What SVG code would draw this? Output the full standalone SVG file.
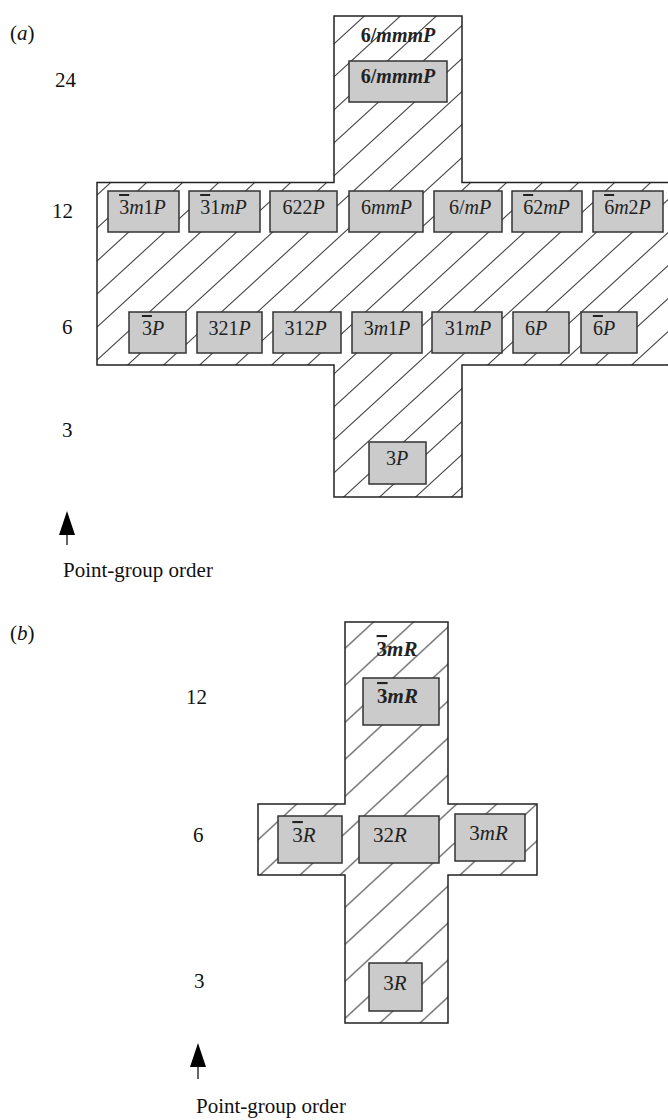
<svg xmlns="http://www.w3.org/2000/svg" width="668" height="1120" viewBox="0 0 668 1120">
<style>
  text { font-family: "Liberation Serif", "Times New Roman", serif; fill: #111; }
  .lbl { font-size: 21px; }
  .bt { font-size: 20px; fill: #222; text-anchor: middle; }
  .btb { font-size: 21px; fill: #222; text-anchor: middle; }
  .bold { font-weight: bold; }
  .i { font-style: italic; }
  .ob { text-decoration: overline; }
  .box { fill: #cbcbcb; stroke: #333; stroke-width: 1.5; }
  .cross { stroke: #222; stroke-width: 1.5; }
  .shaft { stroke: #666; stroke-width: 2; fill: none; }
</style>
<defs>
  <pattern id="hatchA" patternUnits="userSpaceOnUse" x="0" y="20" width="36" height="33">
    <rect width="36" height="33" fill="#fff"/>
    <path d="M-2,1.83 L2,-1.83 M-2,34.83 L38,-1.83 M34,34.83 L38,31.17" stroke="#444" stroke-width="1.1" fill="none"/>
  </pattern>
  <pattern id="hatchB" patternUnits="userSpaceOnUse" x="0" y="5.5" width="40" height="37">
    <rect width="40" height="37" fill="#fff"/>
    <path d="M-2,1.85 L2,-1.85 M-2,38.85 L42,-1.85 M38,38.85 L42,35.15" stroke="#444" stroke-width="1.1" fill="none"/>
  </pattern>
  <marker id="head" markerUnits="userSpaceOnUse" markerWidth="24" markerHeight="16" viewBox="0 0 24 16" refX="0" refY="8" orient="auto">
    <path d="M0,0 L24,8 L0,16 Z" fill="#000"/>
  </marker>
</defs>

<!-- Panel (a) -->
<g id="panel-a">
  <text class="lbl" x="10" y="40">(<tspan class="i">a</tspan>)</text>
  <g id="axis-a">
    <text class="lbl" x="55" y="87">24</text>
    <text class="lbl" x="52" y="218">12</text>
    <text class="lbl" x="62" y="334">6</text>
    <text class="lbl" x="62" y="437">3</text>
    <text class="lbl" x="63" y="577">Point-group order</text>
  </g>
  <g id="region-a">
    <path class="cross" fill="url(#hatchA)" d="M334,16 H462 V182.5 H672 V365 H462 V497 H334 V365 H97 V182.5 H334 Z"/>
    <text class="bt bold" x="398" y="42">6/<tspan class="i">mmmP</tspan></text>
  </g>
  <g id="n-6mmmP"><rect class="box" x="349" y="61" width="98" height="41"/><text class="bt bold" x="398" y="83">6/<tspan class="i">mmmP</tspan></text></g>

  <g id="n-3bm1P"><rect class="box" x="108" y="191" width="71" height="41"/><text class="bt" x="142.5" y="214"><tspan class="ob">3</tspan><tspan class="i">m</tspan>1<tspan class="i">P</tspan></text></g>
  <g id="n-3b1mP"><rect class="box" x="189" y="191" width="71" height="41"/><text class="bt" x="223.5" y="214"><tspan class="ob">3</tspan>1<tspan class="i">mP</tspan></text></g>
  <g id="n-622P"><rect class="box" x="270" y="191" width="67" height="41"/><text class="bt" x="303.5" y="214">622<tspan class="i">P</tspan></text></g>
  <g id="n-6mmP"><rect class="box" x="349" y="191" width="74" height="41"/><text class="bt" x="386.5" y="214">6<tspan class="i">mmP</tspan></text></g>
  <g id="n-6mP"><rect class="box" x="434" y="191" width="68" height="41"/><text class="bt" x="470" y="214">6/<tspan class="i">mP</tspan></text></g>
  <g id="n-6b2mP"><rect class="box" x="512" y="191" width="70" height="41"/><text class="bt" x="546.5" y="214"><tspan class="ob">6</tspan>2<tspan class="i">mP</tspan></text></g>
  <g id="n-6bm2P"><rect class="box" x="593" y="191" width="70" height="41"/><text class="bt" x="627.5" y="214"><tspan class="ob">6</tspan><tspan class="i">m</tspan>2<tspan class="i">P</tspan></text></g>

  <g id="n-3bP"><rect class="box" x="129" y="312" width="57" height="41"/><text class="bt" x="153" y="335"><tspan class="ob">3</tspan><tspan class="i">P</tspan></text></g>
  <g id="n-321P"><rect class="box" x="197" y="312" width="65" height="41"/><text class="bt" x="229.5" y="335">321<tspan class="i">P</tspan></text></g>
  <g id="n-312P"><rect class="box" x="273" y="312" width="68" height="41"/><text class="bt" x="305.5" y="335">312<tspan class="i">P</tspan></text></g>
  <g id="n-3m1P"><rect class="box" x="352" y="312" width="70" height="41"/><text class="bt" x="387" y="335">3<tspan class="i">m</tspan>1<tspan class="i">P</tspan></text></g>
  <g id="n-31mP"><rect class="box" x="432" y="312" width="70" height="41"/><text class="bt" x="468" y="335">31<tspan class="i">mP</tspan></text></g>
  <g id="n-6P"><rect class="box" x="513" y="312" width="56" height="41"/><text class="bt" x="536" y="335">6<tspan class="i">P</tspan></text></g>
  <g id="n-6bP"><rect class="box" x="581" y="312" width="56" height="41"/><text class="bt" x="604" y="335"><tspan class="ob">6</tspan><tspan class="i">P</tspan></text></g>

  <g id="n-3P"><rect class="box" x="369" y="442" width="57" height="42"/><text class="bt" x="397" y="465">3<tspan class="i">P</tspan></text></g>
</g>

<!-- Panel (b) -->
<g id="panel-b">
  <text class="lbl" x="10" y="640">(<tspan class="i">b</tspan>)</text>
  <g id="axis-b">
    <text class="lbl" x="186" y="704">12</text>
    <text class="lbl" x="193" y="842">6</text>
    <text class="lbl" x="194" y="988">3</text>
    <text class="lbl" x="196" y="1113">Point-group order</text>
  </g>
  <g id="region-b">
    <path class="cross" fill="url(#hatchB)" d="M345,622 H448 V804 H537 V875 H448 V1023 H345 V875 H258 V804 H345 Z"/>
    <text class="btb bold" x="397" y="656"><tspan class="ob">3</tspan><tspan class="i">mR</tspan></text>
  </g>
  <g id="n-3bmR"><rect class="box" x="363" y="678" width="76" height="47"/><text class="btb bold" x="397.5" y="703"><tspan class="ob">3</tspan><tspan class="i">mR</tspan></text></g>
  <g id="n-3bR"><rect class="box" x="278" y="816" width="64" height="47"/><text class="btb" x="304" y="842"><tspan class="ob">3</tspan><tspan class="i">R</tspan></text></g>
  <g id="n-32R"><rect class="box" x="359" y="816" width="80" height="47"/><text class="btb" x="390" y="842">32<tspan class="i">R</tspan></text></g>
  <g id="n-3mR"><rect class="box" x="455" y="814" width="70" height="47"/><text class="btb" x="488.5" y="840">3<tspan class="i">mR</tspan></text></g>
  <g id="n-3R"><rect class="box" x="369" y="963" width="53" height="48"/><text class="btb" x="395" y="990">3<tspan class="i">R</tspan></text></g>
</g>

<g id="connectors">
  <line class="shaft" x1="67" y1="545" x2="67" y2="535" marker-end="url(#head)"/>
  <line class="shaft" x1="198" y1="1079" x2="198" y2="1067" marker-end="url(#head)"/>
</g>
</svg>
